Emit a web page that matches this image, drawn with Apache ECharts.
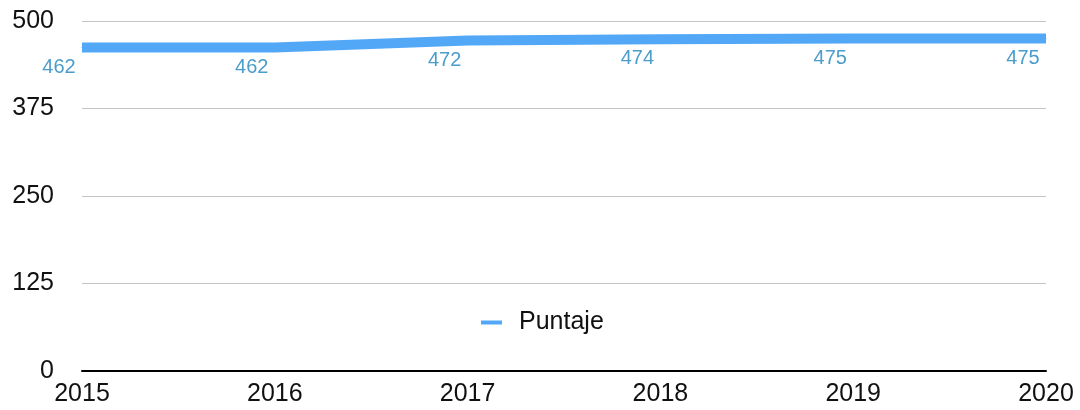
<!DOCTYPE html>
<html>
<head>
<meta charset="utf-8">
<script src="https://cdn.jsdelivr.net/npm/echarts@6/dist/echarts.min.js"></script>
<style>
    html, body { margin: 0; padding: 0; background: #fff; }
    #chart { width: 1080px; height: 410px; }
</style>
</head>
<body>
<div id="chart"></div>
<script>
// datos del gráfico
const years = ['2015', '2016', '2017', '2018', '2019', '2020'];
const puntaje = [462, 462, 472, 474, 475, 475];
const seriesName = 'Puntaje';

const chart = echarts.init(document.getElementById('chart'));

const option = {
    backgroundColor: '#ffffff',
    animation: false,
    textStyle: { fontFamily: 'Liberation Sans' },
    grid: {
        left: 82,
        right: 34,
        top: 21,
        bottom: 39
    },
    legend: {
        data: [seriesName],
        left: 476,
        top: 305,
        icon: 'rect',
        itemWidth: 21,
        itemHeight: 4,
        itemGap: 10,
        textStyle: {
            fontSize: 25,
            color: '#111',
            padding: [0, 0, 0, 12]
        }
    },
    xAxis: {
        type: 'category',
        boundaryGap: false,
        data: years,
        axisLine: { lineStyle: { color: '#000', width: 2 } },
        axisTick: { show: false },
        axisLabel: {
            fontSize: 25,
            color: '#111',
            margin: 11
        }
    },
    yAxis: {
        type: 'value',
        min: 0,
        max: 500,
        interval: 125,
        axisLine: { show: false },
        axisTick: { show: false },
        axisLabel: {
            fontSize: 25,
            color: '#111',
            margin: 28
        },
        splitLine: {
            lineStyle: { color: '#c4c4c4', width: 1 }
        }
    },
    series: [{
        name: seriesName,
        type: 'line',
        data: puntaje,
        symbol: 'circle',
        symbolSize: 1,
        showSymbol: true,
        lineStyle: {
            color: '#52a8f7',
            width: 10
        },
        itemStyle: { color: '#52a8f7' },
        label: {
            show: true,
            position: 'bottom',
            distance: 9,
            offset: [-23, 0],
            fontSize: 20,
            color: '#4b9dcb'
        }
    }]
};

chart.setOption(option);
</script>
</body>
</html>
